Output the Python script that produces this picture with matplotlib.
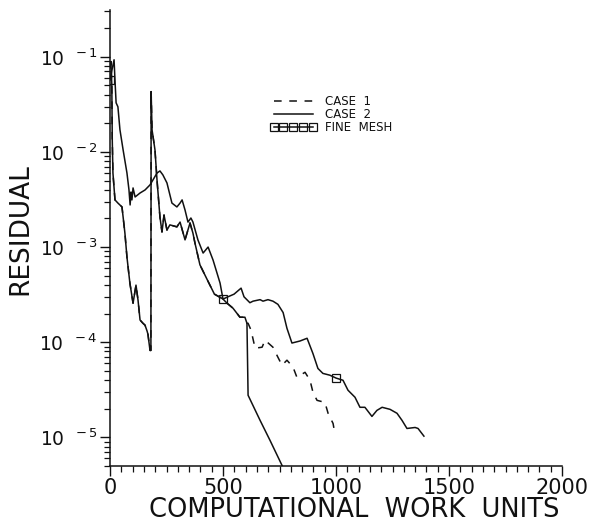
import matplotlib.pyplot as plt
from matplotlib.ticker import LogLocator, MultipleLocator, FuncFormatter, NullFormatter
import numpy as np

plt.rcParams['font.family'] = ['DejaVu Sans']
plt.rcParams['mathtext.fontset'] = 'dejavusans'

# residual history, case 2 (solid)
case2_work = [0, 4, 8, 10, 13, 22, 35, 53, 58, 66, 75, 88, 102, 115, 124, 133,
              146, 155, 164, 168, 177, 181, 182, 186, 199, 208, 221, 230, 239,
              252, 265, 296, 310, 332, 354, 367, 376, 398, 429, 462, 494, 500,
              518, 544, 575, 597, 606, 611, 664, 708, 766]
case2_resid = [7.7e-2, 8.9e-2, 5.1e-2, 1.34e-2, 6.0e-3, 3.13e-3, 2.90e-3,
               2.64e-3, 2.07e-3, 1.40e-3, 7.85e-4, 4.18e-4, 2.57e-4, 3.98e-4,
               2.77e-4, 1.71e-4, 1.58e-4, 1.51e-4, 1.31e-4, 1.21e-4, 8.2e-5,
               8.2e-5, 4.3e-2, 1.71e-2, 1.05e-2, 5.07e-3, 2.07e-3, 1.44e-3,
               2.17e-3, 1.51e-3, 1.71e-3, 1.63e-3, 1.83e-3, 1.19e-3, 1.79e-3,
               1.40e-3, 1.10e-3, 6.5e-4, 4.6e-4, 3.2e-4, 2.9e-4, 2.84e-4,
               2.57e-4, 2.28e-4, 1.83e-4, 1.83e-4, 1.58e-4, 2.77e-5, 1.51e-5,
               9.3e-6, 4.8e-6]

# case 1 follows case 2 up to ~600 units, then converges more slowly
branch = 46
case1_tail_work = [611, 624, 642, 673, 686, 721, 743, 761, 783, 810, 827, 863,
                   885, 898, 916, 951, 965, 987, 991]
case1_tail_resid = [1.58e-4, 1.34e-4, 8.65e-5, 8.86e-5, 1.05e-4, 8.86e-5,
                    6.95e-5, 5.73e-5, 6.47e-5, 5.46e-5, 4.28e-5, 4.83e-5,
                    3.98e-5, 2.98e-5, 2.45e-5, 2.33e-5, 1.79e-5, 1.40e-5,
                    1.24e-5]
case1_work = case2_work[:branch + 1] + case1_tail_work
case1_resid = case2_resid[:branch + 1] + case1_tail_resid

# fine mesh reference run
fine_work = [0, 9, 18, 22, 27, 35, 44, 58, 75, 84, 89, 93, 97, 102, 111, 133,
             155, 177, 190, 208, 221, 234, 252, 274, 296, 310, 319, 332, 345,
             358, 367, 389, 412, 434, 456, 487, 500, 522, 549, 580, 593, 619,
             633, 664, 677, 699, 721, 743, 766, 783, 805, 841, 872, 898, 920,
             942, 973, 1000, 1031, 1053, 1084, 1106, 1128, 1159, 1181, 1204,
             1239, 1270, 1292, 1314, 1350, 1363, 1389]
fine_resid = [5.7e-2, 7.3e-2, 9.3e-2, 5.7e-2, 3.28e-2, 2.98e-2, 1.71e-2,
              1.05e-2, 6.0e-3, 3.98e-3, 2.77e-3, 3.79e-3, 3.13e-3, 4.18e-3,
              3.36e-3, 3.70e-3, 3.98e-3, 4.50e-3, 5.07e-3, 6.0e-3, 6.31e-3,
              5.73e-3, 4.72e-3, 2.90e-3, 2.64e-3, 2.90e-3, 3.13e-3, 2.45e-3,
              1.83e-3, 2.02e-3, 1.83e-3, 1.19e-3, 8.65e-4, 1.0e-3, 7.3e-4,
              4.18e-4, 2.84e-4, 3.0e-4, 3.2e-4, 3.7e-4, 3.0e-4, 2.6e-4, 2.7e-4,
              2.8e-4, 2.7e-4, 2.8e-4, 2.7e-4, 2.5e-4, 2.05e-4, 1.4e-4, 9.8e-5,
              1.03e-4, 1.10e-4, 7.6e-5, 5.3e-5, 4.7e-5, 4.5e-5, 4.2e-5, 3.98e-5,
              3.13e-5, 2.64e-5, 2.07e-5, 2.07e-5, 1.66e-5, 1.92e-5, 2.07e-5,
              1.97e-5, 1.79e-5, 1.51e-5, 1.24e-5, 1.27e-5, 1.24e-5, 1.03e-5]
fine_marks = [0, 500, 1000]

fig = plt.figure(figsize=(5.98, 5.25), dpi=100)
ax = fig.add_axes([110 / 598, 1 - 466 / 525, 452 / 598, 456 / 525])

ink = '#111111'
ax.plot(case1_work, case1_resid, color=ink, lw=1.1, ls=(0, (5, 5)), label='CASE  1')
ax.plot(case2_work, case2_resid, color=ink, lw=1.1, label='CASE  2')
mark_idx = [fine_work.index(w) for w in fine_marks]
ax.plot(fine_work, fine_resid, color=ink, lw=1.1, marker='s', ms=6,
        mfc='none', mec=ink, mew=0.9, markevery=mark_idx, label='FINE  MESH')

ax.set_yscale('log')
ax.set_xlim(0, 2000)
ax.set_ylim(5e-6, 0.31)

for side in ('top', 'right'):
    ax.spines[side].set_visible(False)
for side in ('left', 'bottom'):
    ax.spines[side].set_linewidth(1.1)
    ax.spines[side].set_color(ink)

ax.xaxis.set_major_locator(MultipleLocator(500))
ax.xaxis.set_minor_locator(MultipleLocator(50))
ax.yaxis.set_major_locator(LogLocator(base=10, numticks=10))
ax.yaxis.set_minor_locator(LogLocator(base=10, subs=np.arange(2, 10), numticks=20))
ax.yaxis.set_minor_formatter(NullFormatter())
ax.yaxis.set_major_formatter(FuncFormatter(
    lambda v, p: r'$\mathregular{10^{\ \ %d}}$' % round(np.log10(v))))

ax.tick_params(which='major', direction='out', length=7, width=1.0, color=ink,
               labelcolor=ink, pad=2)
ax.tick_params(axis='y', which='major', labelsize=13.5)
ax.tick_params(axis='x', which='major', labelsize=15, pad=2)
ax.tick_params(which='minor', direction='out', length=4.5, width=0.9, color=ink)

ax.set_xlabel('COMPUTATIONAL  WORK  UNITS', fontsize=18.5, color=ink)
ax.xaxis.set_label_coords(0.54, -0.068)
ax.set_ylabel('RESIDUAL', fontsize=19, color=ink)
ax.yaxis.set_label_coords(-0.17, 0.52)

leg = ax.legend(loc='upper left', bbox_to_anchor=(270 / 598, 1 - 95 / 525),
                bbox_transform=fig.transFigure, frameon=False, fontsize=8.5,
                handlelength=3.9, handletextpad=0.8, labelspacing=0.0,
                numpoints=5, borderpad=0, borderaxespad=0)
for t in leg.get_texts():
    t.set_color(ink)

fig.savefig('out.png', dpi=100)
